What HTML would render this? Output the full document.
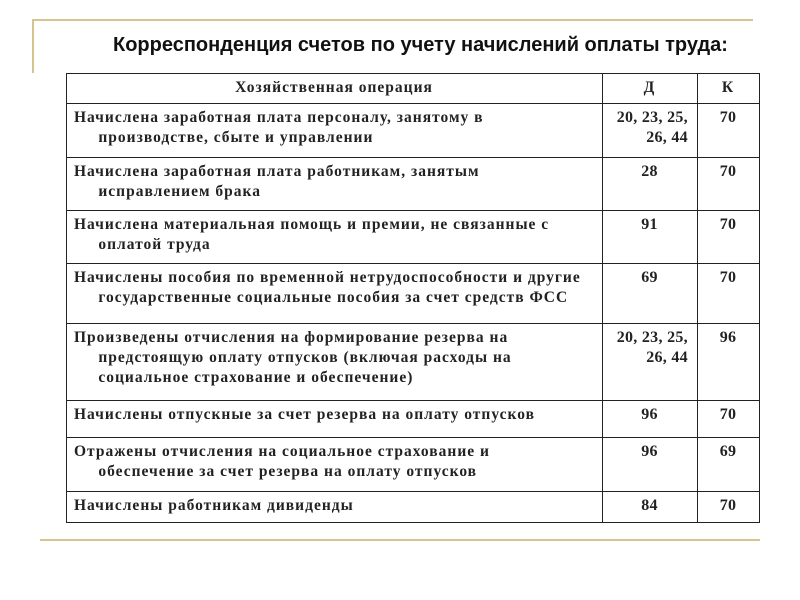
<!DOCTYPE html>
<html><head><meta charset="utf-8"><style>
body{margin:0;width:800px;height:600px;background:#fff;position:relative;overflow:hidden}
.g{position:absolute;background:#d4c58e}
.h{position:absolute;left:66px;width:694px;height:1px;background:#222}
.v{position:absolute;top:73px;height:449px;width:1px;background:#222}
.t{position:absolute;font-family:"Liberation Serif",serif;font-weight:bold;font-size:15.5px;letter-spacing:1px;line-height:20px;color:#222;white-space:nowrap}
.n{letter-spacing:0.3px;font-size:16px}
.c{text-align:center}
.r{text-align:right}
</style></head><body>
<div class="g" style="left:33px;top:19px;width:720px;height:2px"></div>
<div class="g" style="left:32px;top:19px;width:2px;height:54px"></div>
<div class="g" style="left:40px;top:539px;width:720px;height:2px"></div>
<div style="position:absolute;left:113px;top:34px;font-family:'Liberation Sans',sans-serif;font-weight:bold;font-size:20px;color:#111">Корреспонденция счетов по учету начислений оплаты труда:</div>

<div class="h" style="top:73px"></div><div class="h" style="top:103px"></div><div class="h" style="top:157px"></div><div class="h" style="top:210px"></div><div class="h" style="top:263px"></div><div class="h" style="top:323px"></div><div class="h" style="top:400px"></div><div class="h" style="top:437px"></div><div class="h" style="top:491px"></div><div class="h" style="top:522px"></div>
<div class="v" style="left:66px"></div><div class="v" style="left:602px"></div><div class="v" style="left:697px"></div><div class="v" style="left:759px"></div>

<div class="t c" style="left:66px;width:536px;top:78px">Хозяйственная операция</div>
<div class="t c" style="left:602px;width:95px;top:78px">Д</div>
<div class="t c" style="left:697px;width:62px;top:78px">К</div>

<div class="t" style="left:74px;top:108px">Начислена заработная плата персоналу, занятому в<br>&nbsp;&nbsp;&nbsp;&nbsp;&nbsp;производстве, сбыте и управлении</div>
<div class="t r n" style="left:602px;width:86px;top:108px">20, 23, 25,<br>26, 44</div>
<div class="t c n" style="left:697px;width:62px;top:108px">70</div>

<div class="t" style="left:74px;top:162px">Начислена заработная плата работникам, занятым<br>&nbsp;&nbsp;&nbsp;&nbsp;&nbsp;исправлением брака</div>
<div class="t c n" style="left:602px;width:95px;top:162px">28</div>
<div class="t c n" style="left:697px;width:62px;top:162px">70</div>

<div class="t" style="left:74px;top:215px">Начислена материальная помощь и премии, не связанные с<br>&nbsp;&nbsp;&nbsp;&nbsp;&nbsp;оплатой труда</div>
<div class="t c n" style="left:602px;width:95px;top:215px">91</div>
<div class="t c n" style="left:697px;width:62px;top:215px">70</div>

<div class="t" style="left:74px;top:268px">Начислены пособия по временной нетрудоспособности и другие<br>&nbsp;&nbsp;&nbsp;&nbsp;&nbsp;государственные социальные пособия за счет средств ФСС</div>
<div class="t c n" style="left:602px;width:95px;top:268px">69</div>
<div class="t c n" style="left:697px;width:62px;top:268px">70</div>

<div class="t" style="left:74px;top:328px">Произведены отчисления на формирование резерва на<br>&nbsp;&nbsp;&nbsp;&nbsp;&nbsp;предстоящую оплату отпусков (включая расходы на<br>&nbsp;&nbsp;&nbsp;&nbsp;&nbsp;социальное страхование и обеспечение)</div>
<div class="t r n" style="left:602px;width:86px;top:328px">20, 23, 25,<br>26, 44</div>
<div class="t c n" style="left:697px;width:62px;top:328px">96</div>

<div class="t" style="left:74px;top:405px">Начислены отпускные за счет резерва на оплату отпусков</div>
<div class="t c n" style="left:602px;width:95px;top:405px">96</div>
<div class="t c n" style="left:697px;width:62px;top:405px">70</div>

<div class="t" style="left:74px;top:442px">Отражены отчисления на социальное страхование и<br>&nbsp;&nbsp;&nbsp;&nbsp;&nbsp;обеспечение за счет резерва на оплату отпусков</div>
<div class="t c n" style="left:602px;width:95px;top:442px">96</div>
<div class="t c n" style="left:697px;width:62px;top:442px">69</div>

<div class="t" style="left:74px;top:496px">Начислены работникам дивиденды</div>
<div class="t c n" style="left:602px;width:95px;top:496px">84</div>
<div class="t c n" style="left:697px;width:62px;top:496px">70</div>
</body></html>
